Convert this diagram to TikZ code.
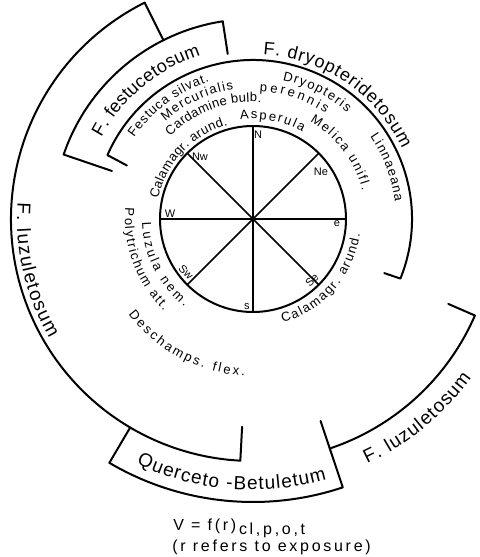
\documentclass[tikz,border=0pt]{standalone}
\usepackage{fontspec}
\setmainfont{Liberation Sans}
\usetikzlibrary{decorations.text}
\newcommand{\zonefont}{\fontsize{9.5}{11}\selectfont}
\newcommand{\headfont}{\fontsize{9}{11}\selectfont}
\newcommand{\specfont}{\fontsize{6.5}{8}\selectfont}
\newcommand{\dirfont}{\fontsize{5.5}{6}\selectfont}
\newcommand{\notefont}{\fontsize{8}{10}\selectfont\addfontfeature{LetterSpace=17}}

\begin{document}
\begin{tikzpicture}[x=0.5pt, y=0.5pt,
    zone/.style={line width=1pt, line cap=round, line join=round},
    spoke/.style={line width=0.8pt, line cap=round},
    arctext/.style={decorate, decoration={text along path, text align=fit to path, text={#1}}},
    compass/.style={font=\dirfont, inner sep=0pt},
    note/.style={font=\notefont, inner sep=0pt, anchor=base west},
]
\useasboundingbox (-253,-338) rectangle (227,219);

% exposure wheel
\coordinate (hub) at (0,0);
\draw[zone] (hub) circle[radius=93];
\foreach \a in {0,45,...,315}
    \draw[spoke] (hub) -- (\a:93);

\node[compass] (dirN)  at (5,84)    {N};
\node[compass] (dirNW) at (-53,62)  {Nw};
\node[compass] (dirNE) at (68,47)   {Ne};
\node[compass] (dirE)  at (84,-5)   {e};
\node[compass] (dirW)  at (-83,5)   {W};
\node[compass, rotate=-45] (dirSW) at (-67,-53) {Sw};
\node[compass] (dirS)  at (-6,-88)  {s};
\node[compass, rotate=45] (dirSE) at (59,-61)  {Se};

% zone boundaries
\draw[zone] (157:137) -- (156.3:159) arc[start angle=156.3, end angle=-22, radius=159] -- (-22.4:142);
\draw[zone] (161.2:149) -- (161.2:200) arc[start angle=161.2, end angle=98.7, radius=200] -- (98.7:167);
\draw[zone] (116.6:200) -- (116.6:242) arc[start angle=116.6, end angle=267, radius=242] -- (267:208);
\draw[zone] (239.5:242) -- (239.5:283) arc[start angle=239.5, end angle=288.5, radius=283] -- (288.5:213);
\draw[zone] (288.5:242) arc[start angle=288.5, end angle=336.5, radius=242] -- (336.5:213);

% zone names
\path[arctext={|\headfont|F. festucetosum}] (151.7:172) arc[start angle=151.7, end angle=107.7, radius=172];
\path[arctext={|\headfont|F. dryopteridetosum}] (86.5:165) arc[start angle=86.5, end angle=25.2, radius=165];
\path[arctext={|\zonefont|F. luzuletosum}] (176:236) arc[start angle=176, end angle=210.4, radius=236];
\path[arctext={|\zonefont|F. luzuletosum}] (295:270) arc[start angle=295, end angle=324, radius=270];
\path[arctext={|\zonefont|Querceto -Betuletum}] (244.5:271) arc[start angle=244.5, end angle=285.8, radius=271];

% species
\path[arctext={|\specfont|Festuca silvat.}] (145.6:144) arc[start angle=145.6, end angle=107.6, radius=144];
\path[arctext={|\specfont|Mercurialis}] (132:131) arc[start angle=132, end angle=98.5, radius=131];
\path[arctext={|\specfont|Cardamine bulb.}] (135:117) arc[start angle=135, end angle=86, radius=117];
\path[arctext={|\specfont|Calamagr. arund.}] (168:97) arc[start angle=168, end angle=105, radius=97];
\path[arctext={|\specfont|Asperula}] (97.3:100) arc[start angle=97.3, end angle=60.3, radius=100];
\path[arctext={|\specfont|Dryopteris}] (78:142) arc[start angle=78, end angle=48.5, radius=142];
\path[arctext={|\specfont|perennis}] (87:128) arc[start angle=87, end angle=55.5, radius=128];
\path[arctext={|\specfont|Melica unifl.}] (59.7:113) arc[start angle=59.7, end angle=14.5, radius=113];
\path[arctext={|\specfont|Linnaeana}] (35:143) arc[start angle=35, end angle=7, radius=143];
\path[arctext={|\specfont|Luzula nem.}] (182:111) arc[start angle=182, end angle=232, radius=111];
\path[arctext={|\specfont|Polytrichum att.}] (175:128) arc[start angle=175, end angle=226, radius=128];
\path[arctext={|\specfont|Deschamps. flex.}] (217.5:157) arc[start angle=217.5, end angle=267, radius=157];
\path[arctext={|\specfont|Calamagr. arund.}] (286:108) arc[start angle=286, end angle=352, radius=108];

% formula
\node[note] (formula)  at (-80,-311) {V = f(r)\raisebox{-0.5ex}{\,cl,p,o,t}};
\node[note] (exposure) at (-81,-332) {(r refers to exposure)};
\end{tikzpicture}
\end{document}
